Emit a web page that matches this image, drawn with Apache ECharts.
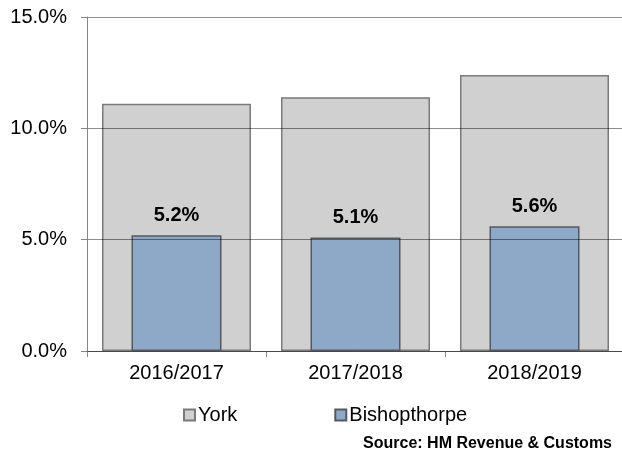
<!DOCTYPE html>
<html>
<head>
<meta charset="utf-8">
<script src="https://cdn.jsdelivr.net/npm/echarts@6/dist/echarts.min.js"></script>
<style>
  html, body { margin: 0; padding: 0; background: #fff; }
  #chart { width: 622px; height: 455px; }
</style>
</head>
<body>
<div id="chart"></div>
<script>
// data
const categories = ['2016/2017', '2017/2018', '2018/2019']
const yorkValues = [11.1, 11.4, 12.4]
const bishopValues = [5.2, 5.1, 5.6]
const yTicks = { min: 0, max: 15, interval: 5 }

const font = "'Liberation Sans', Arial, sans-serif"

const chart = echarts.init(document.getElementById('chart'), null, { renderer: 'canvas' })

chart.setOption({
  animation: false,
  title: {
    text: 'Source: HM Revenue & Customs',
    right: 10,
    top: 436,
    padding: 0,
    textStyle: { fontFamily: font, fontSize: 16, fontWeight: 'bold', color: '#000' },
  },
  legend: {
    left: 178,
    top: 400,
    icon: 'rect',
    itemWidth: 11,
    itemHeight: 11,
    itemGap: 97,
    textStyle: { fontFamily: font, fontSize: 20, color: '#000', padding: [0, 0, 0, -2] },
    data: ['York', 'Bishopthorpe'],
  },
  grid: {
    left: 87,
    top: 17,
    right: -2,
    bottom: 104,
    outerBoundsMode: 'none',
  },
  xAxis: [
    {
      type: 'category',
      data: categories,
      axisLine: { lineStyle: { color: '#868686', width: 1 } },
      axisTick: { show: true, length: 6, lineStyle: { color: '#868686' } },
      axisLabel: { fontFamily: font, fontSize: 20, color: '#000', margin: 12 },
    },
    {
      type: 'category',
      data: categories,
      show: false,
    },
  ],
  yAxis: {
    type: 'value',
    min: yTicks.min,
    max: yTicks.max,
    interval: yTicks.interval,
    z: 3,
    axisLine: { show: true, lineStyle: { color: '#868686', width: 1 } },
    axisTick: { show: true, length: 6, lineStyle: { color: '#868686' } },
    splitLine: { show: true, lineStyle: { color: 'rgba(0,0,0,0.45)', width: 1 } },
    axisLabel: {
      fontFamily: font,
      fontSize: 20,
      color: '#000',
      margin: 20,
      formatter: (v) => v.toFixed(1) + '%',
    },
  },
  series: [
    {
      name: 'York',
      type: 'bar',
      xAxisIndex: 0,
      data: yorkValues,
      barWidth: 149,
      itemStyle: { color: '#d0d0d0', borderColor: '#7a7a7a', borderWidth: 1.5 },
    },
    {
      name: 'Bishopthorpe',
      type: 'bar',
      xAxisIndex: 1,
      data: bishopValues,
      barWidth: 90,
      itemStyle: { color: '#8ea8c8', borderColor: '#55595f', borderWidth: 1.5 },
      label: {
        show: true,
        position: 'top',
        distance: 10,
        fontFamily: font,
        fontSize: 20,
        fontWeight: 'bold',
        color: '#000',
        formatter: (p) => p.value.toFixed(1) + '%',
      },
    },
  ],
})
</script>
</body>
</html>
